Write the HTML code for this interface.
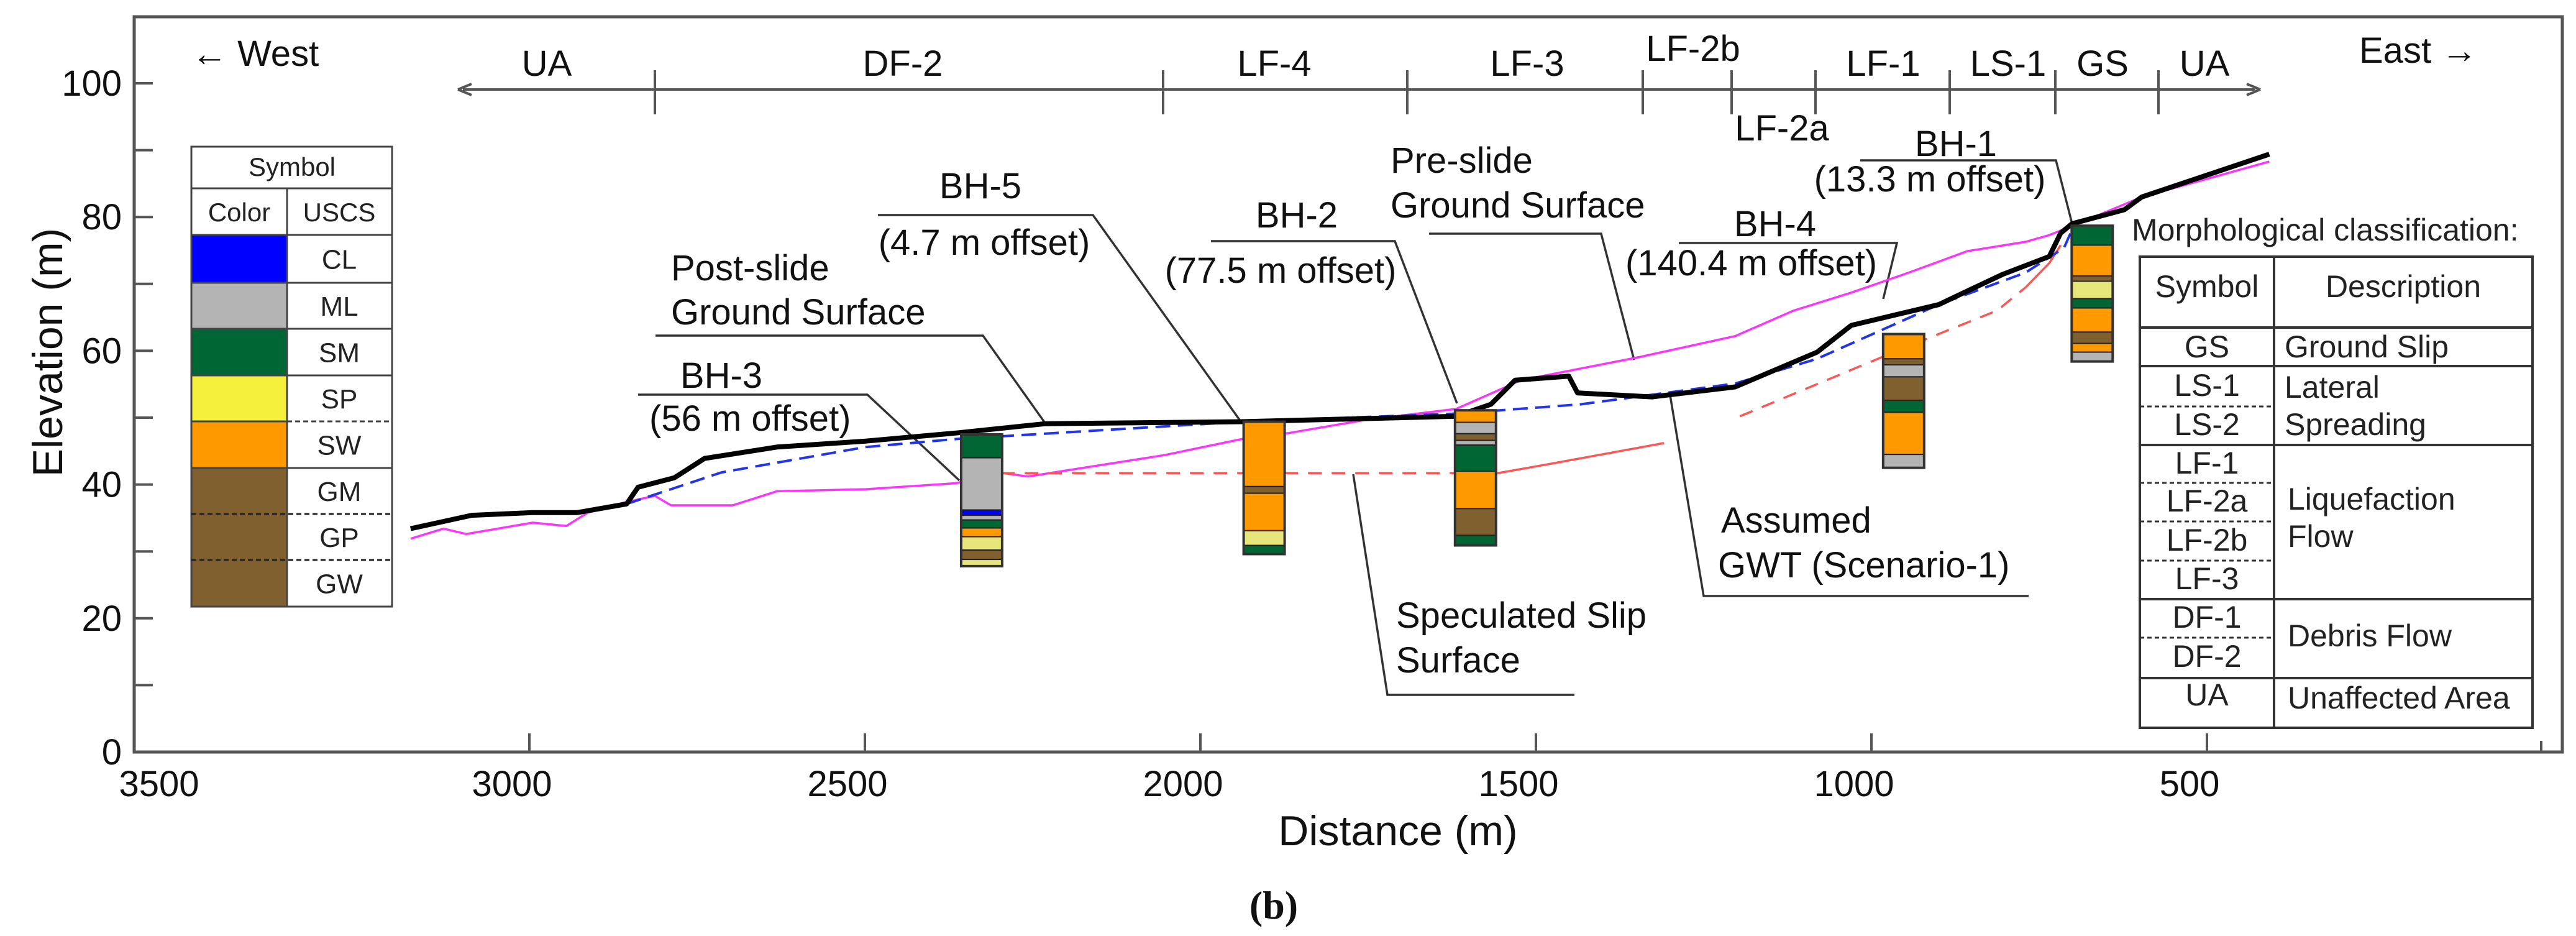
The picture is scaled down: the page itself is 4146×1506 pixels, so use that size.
<!DOCTYPE html>
<html><head><meta charset="utf-8"><style>
html,body{margin:0;padding:0;background:#fff;}
svg{display:block;font-family:"Liberation Sans",sans-serif;}
</style></head><body>
<svg id="chart" width="4146" height="1506" viewBox="0 0 4146 1506" xmlns="http://www.w3.org/2000/svg">
<g id="static"></g>
<g id="marks"></g>
</svg>
<script>
// ---------- data ----------
const xTicks = [3000, 2500, 2000, 1500, 1000, 500];
const xTickLabels = ["3500","3000","2500","2000","1500","1000","500"];
const yTicks = [0,10,20,30,40,50,60,70,80,90,100];
const yTickLabels = ["0","20","40","60","80","100"];
const postDist = [3177,3086,2995,2929,2855,2838,2784,2739,2631,2499,2364,2231,1938,1619,1567,1531,1451,1438,1327,1203,1081,1030,900,805,735,718,701,623,597,407];
const postElev = [33.4,35.4,35.8,35.8,37.1,39.6,41.0,43.9,45.6,46.5,47.7,49.1,49.4,50.2,52.0,55.6,56.2,53.7,53.1,54.6,59.8,63.8,66.9,71.4,74.1,77.6,79.0,81.1,83.0,89.4];
const preDist = [3177,3128,3094,2995,2945,2913,2855,2813,2789,2697,2631,2499,2364,2293,2257,2054,1938,1868,1752,1619,1522,1344,1203,1116,1030,944,857,770,735,683,597,407];
const preElev = [31.9,33.4,32.6,34.3,33.8,35.8,37.4,38.3,36.9,36.9,39.0,39.3,40.2,41.7,41.2,44.4,46.8,47.7,49.7,51.3,55.6,59.1,62.2,66.0,68.7,71.7,74.9,76.3,77.3,79.4,83.0,88.3];
const gwtDist = [2855,2714,2499,2364,1938,1619,1433,1203,1081,900,770,713,701];
const gwtElev = [37.1,41.8,45.6,46.8,49.4,50.6,52.0,55.1,58.8,66.9,71.7,75.4,78.1];
const slipDashDist1 = [2297,1557];
const slipDashElev1 = [41.7,41.7];
const slipSolidDist1 = [1557,1478,1309];
const slipSolidElev1 = [41.7,43.1,46.2];
const slipDashDist2 = [1196,1000,900,813,770];
const slipDashElev2 = [50.2,58.4,62.5,66.0,69.5];
const slipSolidDist2 = [770,735,718];
const slipSolidElev2 = [69.5,73.1,75.8];
const boreholes = ["BH-3","BH-5","BH-2","BH-4","BH-1"];
const boreCenter = [2326,1905,1590,952,671];
const boreTops = [
 [47.5,44.0,36.2,35.4,34.7,33.5,32.2,30.2,28.8],
 [49.4,39.7,38.7,33.1,30.9],
 [51.1,49.3,47.6,46.6,45.9,42.0,36.4,32.4],
 [62.5,58.8,57.9,56.1,52.6,50.8,44.5],
 [78.7,75.8,71.2,70.4,67.8,66.4,62.8,61.1,59.8]];
const boreBottoms = [
 [44.0,36.2,35.4,34.7,33.5,32.2,30.2,28.8,27.8],
 [39.7,38.7,33.1,30.9,29.6],
 [49.3,47.6,46.6,45.9,42.0,36.4,32.4,30.9],
 [58.8,57.9,56.1,52.6,50.8,44.5,42.5],
 [75.8,71.2,70.4,67.8,66.4,62.8,61.1,59.8,58.4]];
const boreSoils = [
 ["SM","ML","CL","ML","SM","SW","SP","GM","SP"],
 ["SW","GM","SW","SP","SM"],
 ["SW","ML","GM","ML","SM","SW","GM","SM"],
 ["SW","GM","ML","GM","SM","SW","ML"],
 ["SM","SW","GM","SP","SM","SW","GM","SW","ML"]];
const soilColor = {CL:"#0000ff",ML:"#b4b4b4",SM:"#006633",SP:"#e6e67a",SW:"#ff9900",GM:"#80602f"};

// ---------- scales ----------
const X = d => 852 + (3000 - d) * 1.08;
const Y = v => 1210 - v * 10.76;
const NS = "http://www.w3.org/2000/svg";
const marks = document.getElementById("marks");
const st = document.getElementById("static");
function mk(tag, attrs, parent, text){
  const e = document.createElementNS(NS, tag);
  for (const k in attrs) e.setAttribute(k, attrs[k]);
  if (text !== undefined) e.textContent = text;
  (parent || st).appendChild(e);
  return e;
}
function pts(ds, vs){ return ds.map((d,i)=>X(d).toFixed(1)+","+Y(vs[i]).toFixed(1)).join(" "); }

// frame
let f = mk("rect",{x:216,y:27,width:3908,height:1183,fill:"none",stroke:"#555","stroke-width":5});


// y ticks
yTicks.forEach(v=>{
  const t = mk("line",{x1:216,x2:246,y1:Y(v),y2:Y(v),stroke:"#555","stroke-width":4});
  
  
});
yTickLabels.forEach((s,i)=>{
  const t = mk("text",{x:196,y:Y(i*20)+20,"text-anchor":"end","font-size":58,fill:"#111"},st,s);
  
  
});
xTicks.forEach(d=>{
  const t = mk("line",{x1:X(d),x2:X(d),y1:1180,y2:1210,stroke:"#555","stroke-width":4});
  
  
});
mk("line",{x1:4090,x2:4090,y1:1192,y2:1210,stroke:"#555","stroke-width":4});
xTickLabels.forEach((s,i)=>{
  const xx = i===0 ? 256 : X(3500-i*500)-28;
  const t = mk("text",{x:xx,y:1281,"text-anchor":"middle","font-size":58,fill:"#111"},st,s);
  
  
});
let tt = mk("text",{x:2250,y:1360,"text-anchor":"middle","font-size":68,fill:"#111"},st,"Distance (m)");


tt = mk("text",{x:0,y:0,"text-anchor":"middle","font-size":68,fill:"#111",transform:"translate(100,567) rotate(-90)"},st,"Elevation (m)");


tt = mk("text",{x:2050,y:1478,"text-anchor":"middle","font-size":64,"font-weight":"bold","font-family":"Liberation Serif, serif",fill:"#111"},st,"(b)");



// direction labels
tt = mk("text",{x:308,y:106,"font-size":58,fill:"#111"},st,"\u2190 West");


tt = mk("text",{x:3797,y:101,"font-size":58,fill:"#111"},st,"East \u2192");



// zone bar
mk("line",{x1:745,x2:3630,y1:144,y2:144,stroke:"#555","stroke-width":4});
mk("path",{d:"M737,144 l22,-9 M737,144 l22,9 M3638,144 l-22,-9 M3638,144 l-22,9",stroke:"#555","stroke-width":4,fill:"none"});
[1054,1872,2265,2644,2787,2922,3138,3308,3474].forEach(x=>{
  const t = mk("line",{x1:x,x2:x,y1:113,y2:184,stroke:"#555","stroke-width":4});
  
  
});
[["UA",880,122],["DF-2",1453,122],["LF-4",2051,122],["LF-3",2458,122],["LF-2b",2725,98],["LF-2a",2868,226],["LF-1",3031,122],["LS-1",3232,122],["GS",3384,122],["UA",3548,122]].forEach(z=>{
  const t = mk("text",{x:z[1],y:z[2],"text-anchor":"middle","font-size":58,fill:"#111"},st,z[0]);
  
  
});

// USCS legend table
const lg = mk("g",{});


const rows=[378,455,529,604,678,753,827,901,976];
const lcol=[soilColor.CL,soilColor.ML,soilColor.SM,"#f5f03c",soilColor.SW,soilColor.GM,soilColor.GM,soilColor.GM];
const lnames=["CL","ML","SM","SP","SW","GM","GP","GW"];
for(let i=0;i<8;i++){
  mk("rect",{x:308,y:rows[i],width:154,height:rows[i+1]-rows[i],fill:lcol[i]},lg);
  mk("text",{x:546,y:(rows[i]+rows[i+1])/2+16,"text-anchor":"middle","font-size":44,fill:"#222"},lg,lnames[i]);
}
mk("rect",{x:308,y:236,width:323,height:740,fill:"none",stroke:"#444","stroke-width":3},lg);
mk("line",{x1:462,x2:462,y1:303,y2:976,stroke:"#444","stroke-width":3},lg);
[303,378,455,529,604,753].forEach(y=>mk("line",{x1:308,x2:631,y1:y,y2:y,stroke:"#444","stroke-width":3},lg));
mk("line",{x1:308,x2:462,y1:678,y2:678,stroke:"#444","stroke-width":3},lg);
mk("line",{x1:462,x2:631,y1:678,y2:678,stroke:"#444","stroke-width":3,"stroke-dasharray":"8,5"},lg);
[827,901].forEach(y=>mk("line",{x1:308,x2:631,y1:y,y2:y,stroke:"#222","stroke-width":3,"stroke-dasharray":"8,5"},lg));
mk("text",{x:470,y:283,"text-anchor":"middle","font-size":42,fill:"#222"},lg,"Symbol");
mk("text",{x:385,y:356,"text-anchor":"middle","font-size":42,fill:"#222"},lg,"Color");
mk("text",{x:546,y:356,"text-anchor":"middle","font-size":42,fill:"#222"},lg,"USCS");

// morphological table
const mg = mk("g",{});


mk("text",{x:3431,y:387,"font-size":50,fill:"#222"},mg,"Morphological classification:");
mk("rect",{x:3444,y:413,width:632,height:758,fill:"none",stroke:"#333","stroke-width":4},mg);
mk("line",{x1:3660,x2:3660,y1:413,y2:1171,stroke:"#333","stroke-width":4},mg);
[527,589,716,964,1091].forEach(y=>mk("line",{x1:3444,x2:4076,y1:y,y2:y,stroke:"#333","stroke-width":4},mg));
[654,777,839,902,1026].forEach(y=>mk("line",{x1:3444,x2:3660,y1:y,y2:y,stroke:"#333","stroke-width":3,"stroke-dasharray":"7,5"},mg));
[["Symbol",3552,478],["GS",3552,575],["LS-1",3552,637],["LS-2",3552,700],["LF-1",3552,762],["LF-2a",3552,823],["LF-2b",3552,886],["LF-3",3552,948],["DF-1",3552,1010],["DF-2",3552,1073],["UA",3552,1135]].forEach(r=>mk("text",{x:r[1],y:r[2],"text-anchor":"middle","font-size":50,fill:"#222"},mg,r[0]));
[["Description",3868,478,"middle"],["Ground Slip",3677,575,"start"],["Lateral",3677,640,"start"],["Spreading",3677,700,"start"],["Liquefaction",3682,820,"start"],["Flow",3682,880,"start"],["Debris Flow",3682,1040,"start"],["Unaffected Area",3682,1140,"start"]].forEach(r=>mk("text",{x:r[1],y:r[2],"text-anchor":r[3],"font-size":50,fill:"#222"},mg,r[0]));

// ---------- series ----------
let s = mk("polyline",{points:pts(preDist,preElev),fill:"none",stroke:"#ff33ff","stroke-width":3.5},marks);


s = mk("polyline",{points:pts(slipDashDist1,slipDashElev1),fill:"none",stroke:"#ff5555","stroke-width":3.5,"stroke-dasharray":"22,16"},marks);


s = mk("polyline",{points:pts(slipSolidDist1,slipSolidElev1),fill:"none",stroke:"#ff5555","stroke-width":3.5},marks);


s = mk("polyline",{points:pts(slipDashDist2,slipDashElev2),fill:"none",stroke:"#ff5555","stroke-width":3.5,"stroke-dasharray":"22,16"},marks);


s = mk("polyline",{points:pts(slipSolidDist2,slipSolidElev2),fill:"none",stroke:"#ff5555","stroke-width":3.5},marks);


s = mk("polyline",{points:pts(gwtDist,gwtElev),fill:"none",stroke:"#2233ee","stroke-width":4,"stroke-dasharray":"24,12"},marks);


s = mk("polyline",{points:pts(postDist,postElev),fill:"none",stroke:"#000","stroke-width":8,"stroke-linejoin":"round"},marks);



// boreholes
boreholes.forEach((b,i)=>{
  const g = mk("g",{},marks);
  
  
  const cx = X(boreCenter[i]);
  boreTops[i].forEach((t,j)=>{
    const r = mk("rect",{x:cx-33,y:Y(t),width:66,height:Y(boreBottoms[i][j])-Y(t),fill:soilColor[boreSoils[i][j]],stroke:"#222","stroke-width":2},g);
    
    
  });
  const top = boreTops[i][0], bot = boreBottoms[i][boreBottoms[i].length-1];
  mk("rect",{x:cx-33,y:Y(top),width:66,height:Y(bot)-Y(top),fill:"none",stroke:"#333","stroke-width":4},g);
});

// annotations
function ann(name, lines, path){
  const g = mk("g",{});
  
  
  lines.forEach(l=>mk("text",{x:l[1],y:l[2],"text-anchor":l[3]||"middle","font-size":58,fill:"#111"},g,l[0]));
  mk("polyline",{points:path,fill:"none",stroke:"#333","stroke-width":3.5},g);
}
ann("bh-3-label",[["BH-3",1161,624],["(56 m offset)",1045,693,"start"]],"1027,635 1396,635 1544,773");
ann("post-slide-label",[["Post-slide",1080,451,"start"],["Ground Surface",1080,522,"start"]],"1055,540 1582,540 1683,682");
ann("bh-5-label",[["BH-5",1578,319],["(4.7 m offset)",1584,410]],"1413,346 1759,346 1999,681");
ann("bh-2-label",[["BH-2",2087,366],["(77.5 m offset)",2061,455]],"1949,388 2245,388 2345,649");
ann("pre-slide-label",[["Pre-slide",2238,278,"start"],["Ground Surface",2238,350,"start"]],"2300,376 2577,376 2630,579");
ann("bh-4-label",[["BH-4",2857,380],["(140.4 m offset)",2616,443,"start"]],"2702,391 3053,391 3031,481");
ann("bh-1-label",[["BH-1",3148,251],["(13.3 m offset)",3106,308]],"2994,258 3309,258 3335,360");
ann("gwt-label",[["Assumed",2770,857,"start"],["GWT (Scenario-1)",2765,929,"start"]],"3265,959 2742,959 2688,636");
ann("slip-surface-label",[["Speculated Slip",2247,1010,"start"],["Surface",2247,1082,"start"]],"2534,1118 2233,1118 2178,763");
</script>
</body></html>
